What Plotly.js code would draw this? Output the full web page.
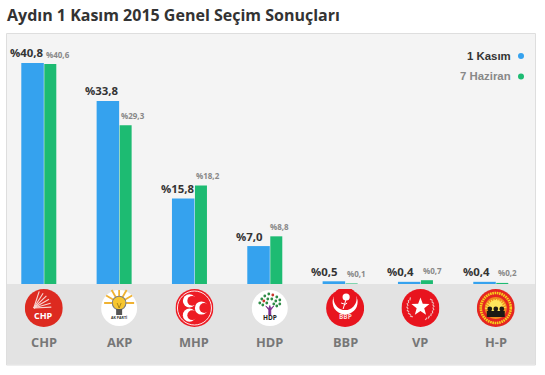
<!DOCTYPE html>
<html><head><meta charset="utf-8">
<script src="https://cdn.plot.ly/plotly-3.0.1.min.js"></script>
<style>html,body{margin:0;padding:0;background:#fff}#c{width:545px;height:375px}</style>
</head><body><div id="c"></div>
<script>
const categories = ['CHP','AKP','MHP','HDP','BBP','VP','H-P'];
const kasim = [40.8,33.8,15.8,7.0,0.5,0.4,0.4];
const haziran = [40.6,29.3,18.2,8.8,0.1,0.7,0.2];
const kasimShift = [-16.5,-17,-16,-20,-20.5,-20,-19.5];
const haziranShift = [14,13.5,14,10,11,12,12];
const fmt = v => '%' + v.toFixed(1).replace('.',',');
const idx = categories.map((_,i)=>i);
const sp = 75.33;
const W=545,H=375,L=7,R=535,T=34,B=284;

function svg(body){return 'data:image/svg+xml;utf8,'+encodeURIComponent('<svg xmlns="http://www.w3.org/2000/svg" viewBox="0 0 38 38" width="38" height="38">'+body+'</svg>');}
const rad=a=>a*Math.PI/180;
const ray=(x,y,a,r,c,w)=>'<path d="M'+x+' '+y+'L'+(x+r*Math.cos(rad(a))).toFixed(1)+' '+(y+r*Math.sin(rad(a))).toFixed(1)+'" stroke="'+c+'" stroke-width="'+w+'"/>';
const crescent=(x,y,r)=>'<circle cx="'+x+'" cy="'+y+'" r="'+r+'" fill="#fff"/><circle cx="'+(x+r*0.42)+'" cy="'+y+'" r="'+(r*0.74)+'" fill="#ed1c24"/>';
const star=(cx,cy,r,f)=>{let p='';for(let i=0;i<10;i++){const a=-Math.PI/2+i*Math.PI/5,q=i%2?r*0.42:r;p+=(cx+q*Math.cos(a)).toFixed(1)+','+(cy+q*Math.sin(a)).toFixed(1)+' ';}return '<polygon points="'+p+'" fill="'+f+'"/>';};

let chpRays='';[-72,-58,-44,-30,-16,-3].forEach(a=>{chpRays+=ray(9,19,a,17.5,'#f8d6d2',1.1);});
let akRays='';[-180,-150,-120,-90,-60,-30,0].forEach(a=>{akRays+=ray(19,14,a,a===-90?13:15,'#f0b232',1.8);});
let leaves='';[[11,10,'#2e8b46'],[14,7,'#2e8b46'],[18,5,'#2e8b46'],[22,6,'#c8352c'],[26,8,'#2e8b46'],[29,11,'#2e8b46'],[9,14,'#2e8b46'],[13,12,'#c8352c'],[17,10,'#2e8b46'],[21,10,'#2e8b46'],[25,12,'#2e8b46'],[29,15,'#2e8b46'],[12,16,'#2e8b46'],[16,14,'#2e8b46'],[23,15,'#2e8b46'],[26,17,'#2e8b46']].forEach(p=>{leaves+='<circle cx="'+p[0]+'" cy="'+p[1]+'" r="1.4" fill="'+p[2]+'"/>';});
let wreath='';for(let a=-40;a<=220;a+=14){if(a>60&&a<120)continue;wreath+=ray(19+12.5*Math.cos(rad(a)),18+12.5*Math.sin(rad(a)),a+70,3,'#eebcbc',1.2);}
let sun='';for(let a=190;a<=350;a+=14){sun+=ray(19,21,a,11,'#fbe04a',1.2);}

const logos=[
 svg('<circle cx="19" cy="19" r="19" fill="#dd2a20"/>'+chpRays),
 svg('<circle cx="19" cy="19" r="18" fill="#fff"/>'+akRays+'<circle cx="19" cy="14" r="6.8" fill="#f7c62f" stroke="#7f7f7f" stroke-width="1.1"/><path d="M16 20h6v6h-6z" fill="#555"/><path d="M17 14l2 5 2-5" fill="none" stroke="#8a6a10" stroke-width="0.7"/>'),
 svg('<circle cx="19" cy="19" r="19" fill="#ed1c24"/><circle cx="19" cy="19" r="17" fill="none" stroke="#fff" stroke-width="0.9"/>'+crescent(14,11.8,6.6)+crescent(14,26.2,6.6)+crescent(26,19,6.6)),
 svg('<circle cx="19" cy="19" r="18" fill="#fff"/>'+leaves+'<path d="M15 17l3 4v5h2v-5l3-4-3 2.5-1-3-1 3z" fill="#7b2d8e" stroke="#7b2d8e" stroke-width="0.8"/>'),
 svg('<circle cx="19" cy="19" r="19" fill="#e8141e"/><circle cx="19" cy="13" r="12.5" fill="#fff"/><circle cx="19" cy="9.5" r="11.5" fill="#e8141e"/><circle cx="20" cy="8" r="3.6" fill="#fff"/><path d="M20 10 L17 20M18 15l-3-1M18 16l3-2" stroke="#fff" stroke-width="1"/>'),
 svg('<circle cx="19" cy="19" r="19" fill="#e8141e"/>'+wreath+star(19,18,9.5,'#fff')),
 svg('<circle cx="19" cy="19" r="19" fill="#e52620"/><circle cx="19" cy="19" r="15" fill="none" stroke="#f6d21c" stroke-width="2.6" stroke-dasharray="1.6 0.7"/><circle cx="19" cy="19" r="11" fill="#f08a1e"/>'+sun+'<circle cx="19" cy="18" r="7" fill="#fde55c"/><path d="M10 22h18v6H10z" fill="#1d1a14"/><circle cx="13" cy="20" r="2.4" fill="#1d1a14"/><circle cx="19" cy="20" r="2.4" fill="#1d1a14"/><circle cx="25" cy="20" r="2.4" fill="#1d1a14"/>')
];
const data=[
 {type:'bar',name:'1 Kasım',x:idx,y:kasim,width:idx.map(()=>22.5/sp),offset:idx.map(()=>-22.5/sp),marker:{color:'#35a2ee'},hoverinfo:'skip'},
 {type:'bar',name:'7 Haziran',x:idx,y:haziran,width:idx.map(()=>12/sp),offset:idx.map(()=>0.5/sp),marker:{color:'#1dbb72'},hoverinfo:'skip'}
];
const ann=[];
idx.forEach(i=>{
 ann.push({x:i,y:kasim[i],xref:'x',yref:'y',text:fmt(kasim[i]),showarrow:false,xshift:kasimShift[i],yshift:10,yanchor:'middle',font:{family:'Open Sans',size:11.4,color:'#333',weight:700}});
 ann.push({x:i,y:haziran[i],xref:'x',yref:'y',text:fmt(haziran[i]),showarrow:false,xshift:haziranShift[i],yshift:10,yanchor:'middle',font:{family:'Open Sans',size:8,color:'#888',weight:700}});
 ann.push({x:i,y:0,xref:'x',yref:'y',text:categories[i],showarrow:false,yshift:-58,yanchor:'middle',font:{family:'Open Sans',size:12.8,color:'#777',weight:700}});
});
const lt=(i,t,s,c,dy)=>ann.push({x:i,y:0,xref:'x',yref:'y',text:t,showarrow:false,yshift:-(dy),yanchor:'middle',font:{family:'Open Sans',size:s,color:c,weight:700}});
lt(0,'CHP',9,'#fff',31.5);lt(1,'AK PARTİ',3.6,'#333',33.5);lt(3,'HDP',6.5,'#222',33);lt(4,'BBP',6.5,'#fbd5d5',32.5);
const px=x=>(x-L)/(R-L),py=y=>(B-y)/(B-T);
ann.push({xref:'paper',yref:'paper',x:px(513),y:py(56),xanchor:'right',yanchor:'middle',text:'1 Kasım',showarrow:false,font:{family:'Liberation Sans',size:11.4,color:'#333',weight:700}});
ann.push({xref:'paper',yref:'paper',x:px(513),y:py(76),xanchor:'right',yanchor:'middle',text:'7 Haziran',showarrow:false,font:{family:'Liberation Sans',size:11.4,color:'#888',weight:700}});
ann.push({xref:'paper',yref:'paper',x:px(4.5),y:py(15),xanchor:'left',yanchor:'middle',text:'Aydın 1 Kasım 2015 Genel Seçim Sonuçları',showarrow:false,font:{family:'Open Sans',size:16,color:'#333',weight:700}});
const shapes=[
 {type:'rect',xref:'paper',yref:'paper',x0:px(6.5),x1:px(535.5),y0:py(33.5),y1:py(365),line:{color:'#dedede',width:1},fillcolor:'#f4f4f4',layer:'below'},
 {type:'rect',xref:'paper',yref:'paper',x0:px(7),x1:px(535),y0:py(284),y1:py(364.5),line:{width:0},fillcolor:'#e3e3e3',layer:'below'},
 {type:'circle',xref:'paper',yref:'paper',x0:px(518),x1:px(524),y0:py(53),y1:py(59),line:{width:0},fillcolor:'#35a2ee'},
 {type:'circle',xref:'paper',yref:'paper',x0:px(518),x1:px(524),y0:py(73.5),y1:py(79.5),line:{width:0},fillcolor:'#1dbb72'}
];
const images=logos.map((src,i)=>({source:src,xref:'x',yref:'paper',x:i,y:py(308),sizex:38/sp,sizey:38/(B-T),xanchor:'center',yanchor:'middle',sizing:'stretch',layer:'above'}));
const layout={width:W,height:H,showlegend:false,barmode:'overlay',
 margin:{l:L,r:W-R,t:T,b:H-B,pad:0},paper_bgcolor:'#fff',plot_bgcolor:'rgba(0,0,0,0)',
 xaxis:{type:'linear',range:[(L-43.8)/sp,(R-43.8)/sp],showgrid:false,zeroline:false,showticklabels:false,ticks:'',fixedrange:true},
 yaxis:{range:[0,(B-T)/5.417],showgrid:false,zeroline:false,showticklabels:false,ticks:'',fixedrange:true},
 annotations:ann,shapes:shapes,images:images};
Plotly.newPlot('c',data,layout,{displayModeBar:false,staticPlot:true});
</script></body></html>
